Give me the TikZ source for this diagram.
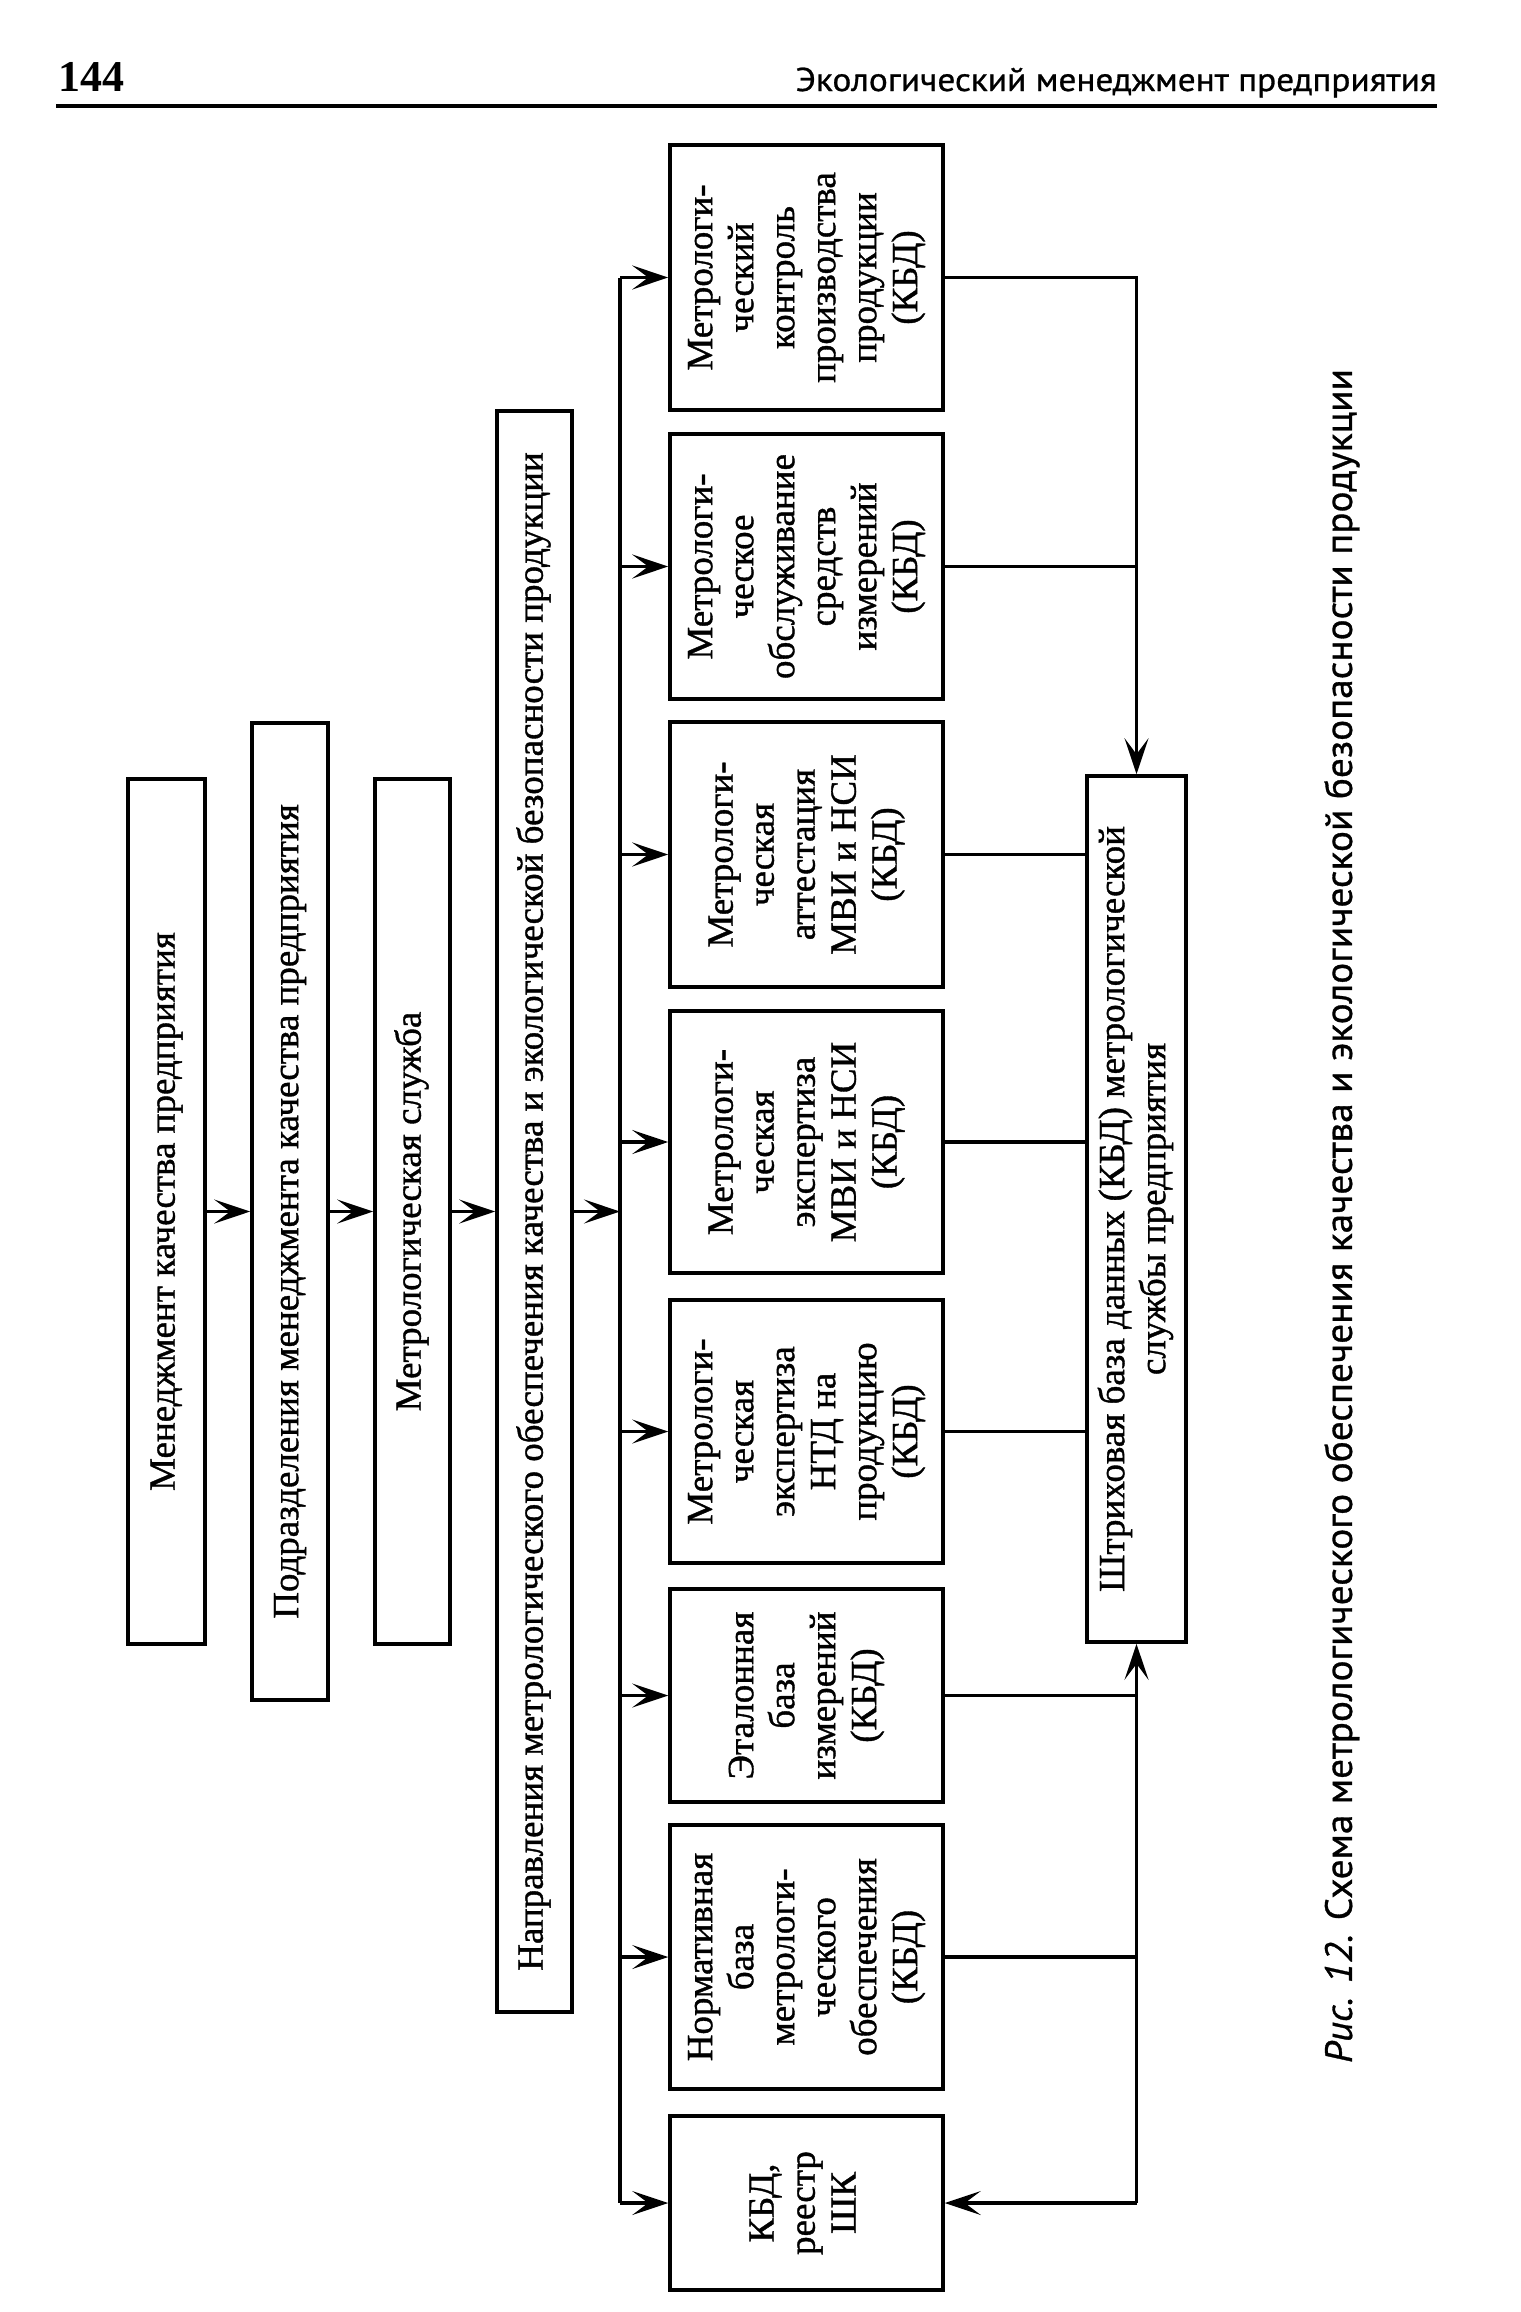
\documentclass[tikz,border=0pt]{standalone}
\usepackage{fontspec}
\setmainfont{Liberation Serif}
\newfontfamily\boxfont{Liberation Serif}[FakeBold=1]
\newfontfamily\capfont{PT Sans}[FakeBold=0.8]
\usepackage{graphicx}
\usetikzlibrary{arrows.meta,calc}
\newcommand\rtext[1]{\rotatebox{90}{\begin{tabular}{@{}c@{}}#1\end{tabular}}}
\begin{document}
\begin{tikzpicture}[x=0.5pt,y=-0.5pt,
  box/.style={draw, line width=1.8pt, inner sep=0pt, font=\boxfont\fontsize{18.5}{20.5}\selectfont},
  boxat/.style n args={4}{at={({(#1+#3)/2},{(#2+#4)/2})}, minimum width={(#3-#1)*0.5pt}, minimum height={(#4-#2)*0.5pt}},
  conn/.style={line width=1.6pt},
  arr/.style={conn, -{Stealth[length=18pt,width=12pt,inset=8pt]}},
]
\useasboundingbox[fill=white] (0,0) rectangle (1520,2312);

% header
\node[anchor=base west, inner sep=0pt, font=\bfseries\fontsize{22}{24}\selectfont] (pg) at (58,91) {144};
\node[anchor=base east, inner sep=0pt, font=\capfont\fontsize{16.5}{18}\selectfont] (hd) at (1437,91) {\resizebox{320.5pt}{\height}{Экологический менеджмент предприятия}};
\draw[line width=2.2pt] (56,106) -- (1437,106);

% left chain
\node[box, boxat={128}{779}{205}{1644}] (m1) {\rtext{Менеджмент качества предприятия}};
\node[box, boxat={252}{723}{328}{1700}] (m2) {\rtext{Подразделения менеджмента качества предприятия}};
\node[box, boxat={375}{779}{450}{1644}] (m3) {\rtext{Метрологическая служба}};
\node[box, boxat={497}{411}{572}{2012}] (m4) {\rtext{Направления метрологического обеспечения качества и экологической безопасности продукции}};

% column
\node[box, boxat={670}{145}{943}{410}] (c1) {\rtext{Метрологи-\\ческий\\контроль\\производства\\продукции\\(КБД)}};
\node[box, boxat={670}{434}{943}{699}] (c2) {\rtext{Метрологи-\\ческое\\обслуживание\\средств\\измерений\\(КБД)}};
\node[box, boxat={670}{722}{943}{987}] (c3) {\rtext{Метрологи-\\ческая\\аттестация\\МВИ и НСИ\\(КБД)}};
\node[box, boxat={670}{1011}{943}{1273}] (c4) {\rtext{Метрологи-\\ческая\\экспертиза\\МВИ и НСИ\\(КБД)}};
\node[box, boxat={670}{1300}{943}{1563}] (c5) {\rtext{Метрологи-\\ческая\\экспертиза\\НТД на\\продукцию\\(КБД)}};
\node[box, boxat={670}{1589}{943}{1802}] (c6) {\rtext{Эталонная\\база\\измерений\\(КБД)}};
\node[box, boxat={670}{1825}{943}{2089}] (c7) {\rtext{Нормативная\\база\\метрологи-\\ческого\\обеспечения\\(КБД)}};
\node[box, boxat={670}{2116}{943}{2290}] (c8) {\rtext{КБД,\\реестр\\ШК}};

% database box
\node[box, boxat={1087}{776}{1186}{1642}] (sh) {\rtext{Штриховая база данных (КБД) метрологической\\службы предприятия}};

% caption
\node[rotate=90, inner sep=0pt, font=\capfont\fontsize{19}{22}\selectfont] (cap) at (1342,1216) {\resizebox{847pt}{\height}{\textit{Рис. 12.} Схема метрологического обеспечения качества и экологической безопасности продукции}};

% connectors left
\draw[arr] (m1.east) -- (m2.west);
\draw[arr] (m2.east) -- (m3.west);
\draw[arr] (m3.east) -- (m4.west);
\coordinate (bl) at (620,1211.5);
\draw[arr] (m4.east) -- (bl);
\draw[conn] (bl |- c1.west) -- (bl |- c8.west);
\foreach \n in {c1,c2,c3,c4,c5,c6,c7,c8} \draw[arr] (bl |- \n.west) -- (\n.west);

% connectors right
\draw[arr] (c1.east) -| (sh.north);
\draw[conn] (c2.east) -- (c2.east -| sh.north);
\draw[conn] (c3.east) -- (c3.east -| sh.west);
\draw[conn] (c4.east) -- (c4.east -| sh.west);
\draw[conn] (c5.east) -- (c5.east -| sh.west);
\draw[conn] (c6.east) -- (c6.east -| sh.south);
\draw[conn] (c7.east) -- (c7.east -| sh.south);
\draw[arr] (sh.south |- c8.east) -- (sh.south);
\draw[arr] (sh.south |- c8.east) -- (c8.east);
\end{tikzpicture}
\end{document}
